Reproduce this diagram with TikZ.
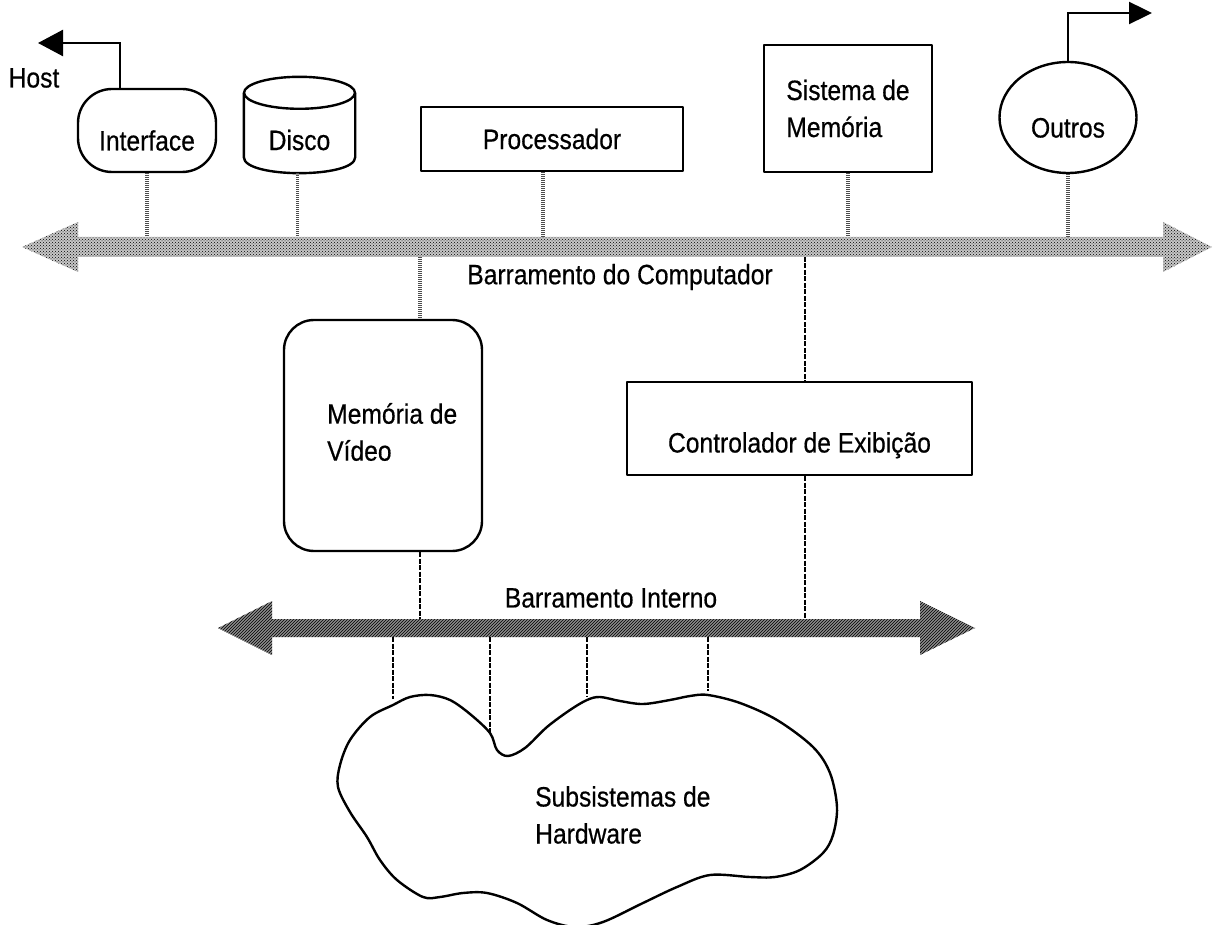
\documentclass[tikz,border=0pt]{standalone}
\usepackage{fontspec}
\setmainfont[FakeStretch=0.88, FakeBold=0.5]{Liberation Sans}
\usetikzlibrary{arrows.meta,patterns,shapes.geometric,calc}

\newcommand\lblfont{\fontsize{28}{37}\selectfont}

\tikzset{
  outline/.style={line width=2.4pt, line join=round},
  blk/.style={draw, outline, inner sep=4pt},
  lowtext/.style={text height=#1, text depth=0pt},
  tap/.style={line width=3.2pt, black!70, dash pattern=on 1pt off 1pt},
  itap/.style={line width=1.5pt, dash pattern=on 5pt off 1.5pt},
  wire/.style={line width=2.4pt},
  topbus/.style={preaction={fill=black!22}, pattern=crosshatch dots, pattern color=black},
  intbus/.style={preaction={fill=black!45}, pattern=north east lines, pattern color=black},
}

\begin{document}
\begin{tikzpicture}[x=1pt, y=-1pt, font=\lblfont]
\useasboundingbox (0,0) rectangle (1219,925);

% ---- units hanging on the computer bus ----
\node[blk, lowtext=40pt, rounded corners=34pt, minimum width=138pt, minimum height=83pt] (iface) at (147,130.5) {Interface};

% disk drawn as a cylinder around an invisible frame node
\node[inner sep=0pt, minimum width=111pt, minimum height=96pt] (disco) at (299.5,125) {};
\draw[outline] ($(disco.north)+(0,16)$) ellipse [x radius=55.5, y radius=16];
\draw[outline] ($(disco.north west)+(0,16)$) -- ($(disco.south west)+(0,-16)$)
  .. controls ($(disco.south west)+(0,5.3)$) and ($(disco.south east)+(0,5.3)$) .. ($(disco.south east)+(0,-16)$)
  -- ($(disco.north east)+(0,16)$);
\node (discotxt) at ($(disco.center)+(0,15)$) {Disco};

\node[blk, minimum width=262pt, minimum height=64pt] (proc) at (552,139) {Processador};
\node[blk, minimum width=168pt, minimum height=127pt, align=left] (mem) at (848,108.5) {Sistema de\\Memória};
\node[blk, lowtext=40pt, ellipse, inner sep=0pt, minimum width=137pt, minimum height=111pt] (outros) at (1068,117.5) {Outros};

% external links
\coordinate (hostend) at (38,43);
\coordinate (hostx) at (120,0);
\coordinate (outend) at (1152,13);
\draw[wire, -{Triangle[length=25pt,width=26pt]}] (iface.north -| hostx) |- (hostend);
\draw[wire, -{Triangle[length=23pt,width=22pt]}] (outros.north) |- (outend);
\node (host) at (34,78) {Host};

% ---- computer bus ----
\path[topbus] (22,247) -- (78,222) -- (78,237) -- (1163,237) -- (1163,222) -- (1212,247)
  -- (1163,272) -- (1163,257) -- (78,257) -- (78,272) -- cycle;
\coordinate (cbusT) at (0,237);
\coordinate (cbusB) at (0,257);
\node (cbuslbl) at (620,277) {Barramento do Computador};

\draw[tap] (iface.south) -- (iface.south |- cbusT);
\draw[tap] ([xshift=-2pt]disco.south) -- ([xshift=-2pt]disco.south |- cbusT);
\draw[tap] ([xshift=-9pt]proc.south) -- ([xshift=-9pt]proc.south |- cbusT);
\draw[tap] (mem.south) -- (mem.south |- cbusT);
\draw[tap] (outros.south) -- (outros.south |- cbusT);

% ---- display subsystem ----
\node[blk, rounded corners=30pt, minimum width=198pt, minimum height=231pt] (vram) at (383,435.5) {};
\node[align=left, anchor=west, inner sep=0pt] (vramtxt) at (327,432) {Memória de\\Vídeo};
\node[blk, lowtext=48pt, minimum width=345pt, minimum height=93pt] (ctrl) at (799.5,428.5) {Controlador de Exibição};

\coordinate (xvram) at (420,0);
\coordinate (xctrl) at (805,0);
\draw[tap] (cbusB -| xvram) -- (vram.north -| xvram);
\draw[itap] (cbusB -| xctrl) -- (ctrl.north -| xctrl);

% ---- internal bus ----
\path[intbus] (218,628) -- (272,601) -- (272,619) -- (920,619) -- (920,601) -- (975,628)
  -- (920,655) -- (920,637) -- (272,637) -- (272,655) -- cycle;
\coordinate (ibusT) at (0,619);
\coordinate (ibusB) at (0,637);
\node (ibuslbl) at (611,598) {Barramento Interno};

\draw[itap] (vram.south -| xvram) -- (ibusT -| xvram);
\draw[itap] (ctrl.south -| xctrl) -- (ibusT -| xctrl);

% ---- hardware subsystems (cloud) ----
\coordinate (h1) at (393,705);
\coordinate (h2) at (490,733);
\coordinate (h3) at (587,700);
\coordinate (h4) at (708,695);
\draw[outline] plot[smooth cycle, tension=0.55] coordinates {
  (h1) (410,697) (430,695) (450,700) (470,714) (h2) (497,750) (508,756) (525,748)
  (547,727) (570,710) (h3) (600,697) (620,701) (643,704) (670,700) (690,696) (h4)
  (740,703) (777,720) (813,747) (830,773) (837,807) (833,835) (823,853) (800,870)
  (775,877) (750,877) (710,875) (677,887) (643,903) (603,922) (575,927) (547,920)
  (517,903) (487,893) (463,893) (440,897) (423,897) (397,880) (380,860) (367,837)
  (350,812) (338,787) (340,765) (350,740) (370,717)};
\node[align=left, anchor=west, inner sep=0pt] (hwtxt) at (535,815) {Subsistemas de\\Hardware};

\draw[itap] (ibusB -| h1) -- ([yshift=6pt]h1);
\draw[itap] (ibusB -| h2) -- (h2);
\draw[itap] (ibusB -| h3) -- ([yshift=4pt]h3);
\draw[itap] (ibusB -| h4) -- ([yshift=4pt]h4);
\end{tikzpicture}
\end{document}
